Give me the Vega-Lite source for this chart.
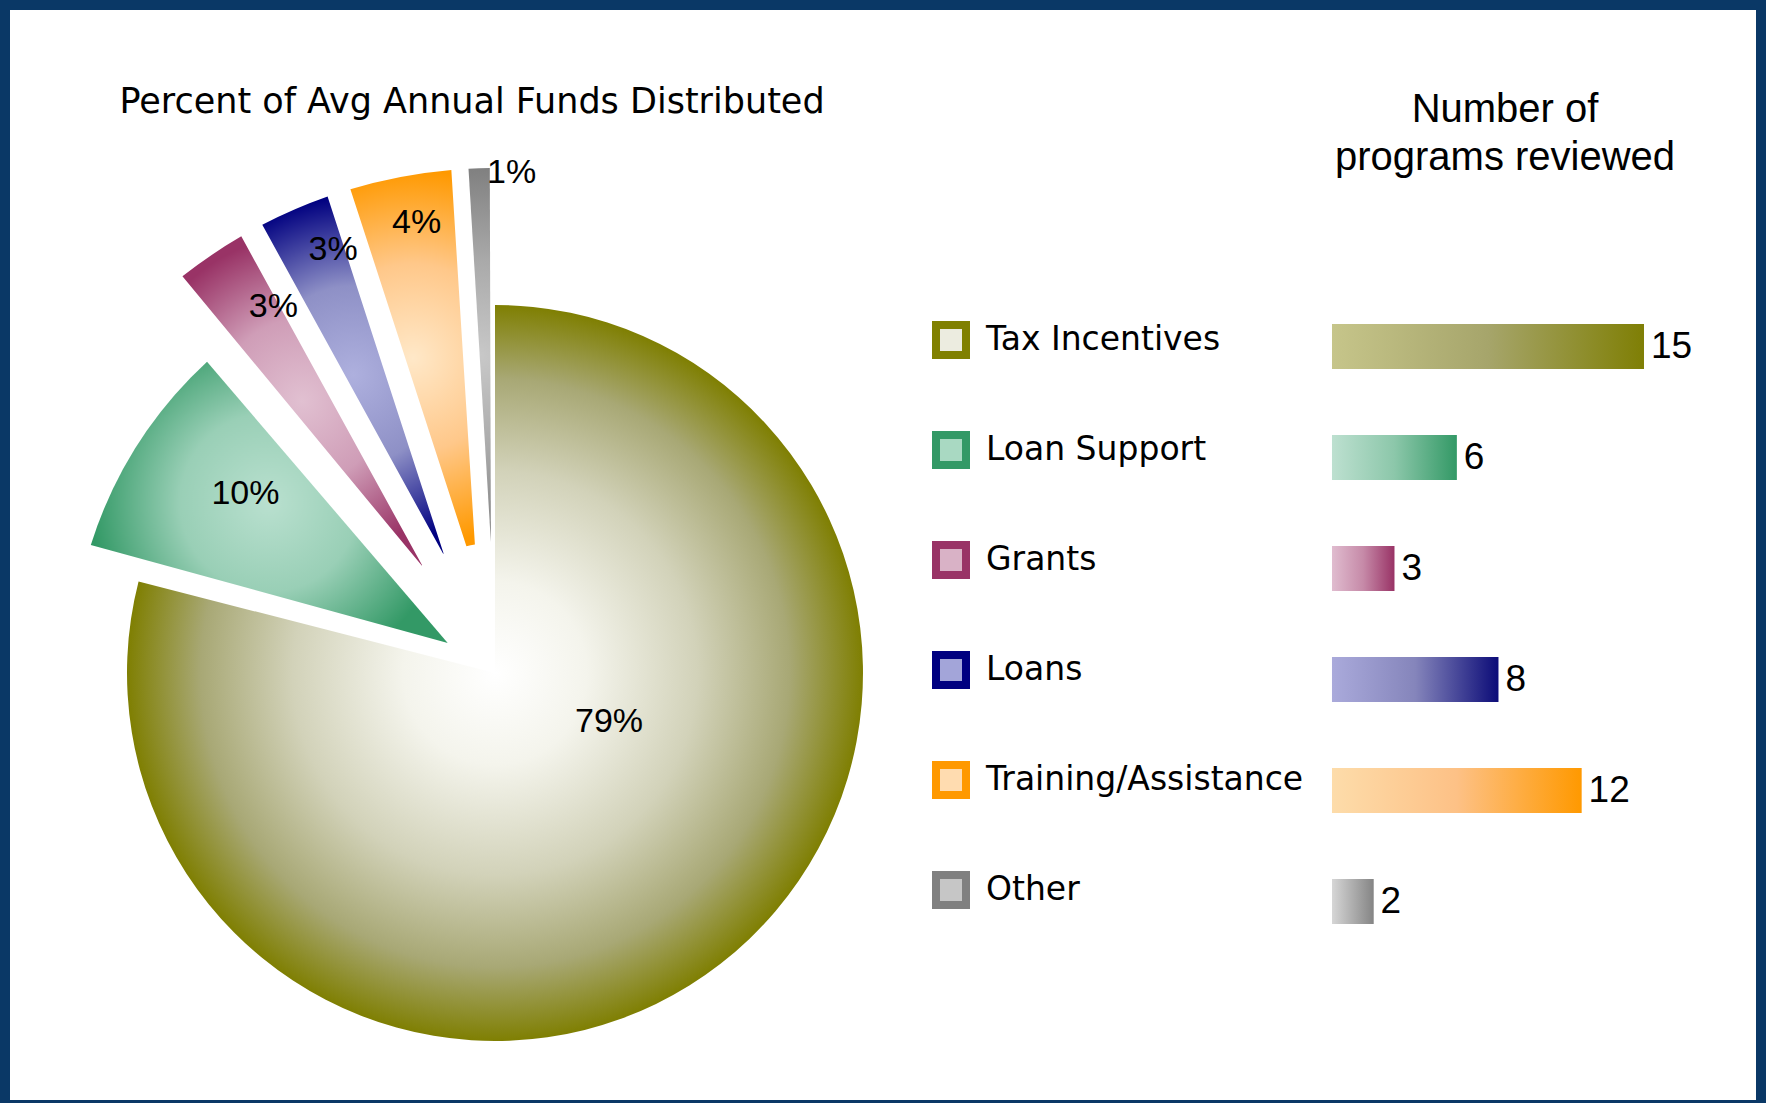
{
  "$schema": "https://vega.github.io/schema/vega-lite/v6.json",
  "background": "#0a3866",
  "padding": {"left": 10, "top": 10, "right": 10, "bottom": 3},
  "spacing": 0,
  "bounds": "flush",
  "align": "each",
  "columns": 2,
  "resolve": {"scale": {"fill": "independent", "stroke": "independent"}, "legend": {"fill": "independent", "stroke": "independent"}},
  "config": {"view": {"fill": "#ffffff", "stroke": null}, "font": "DejaVu Sans"},
  "datasets": {
    "funds": [
      {"category": "Tax Incentives", "pct": 0.79},
      {"category": "Loan Support", "pct": 0.10},
      {"category": "Grants", "pct": 0.03},
      {"category": "Loans", "pct": 0.03},
      {"category": "Training/Assistance", "pct": 0.04},
      {"category": "Other", "pct": 0.01}
    ],
    "programs": [
      {"category": "Tax Incentives", "count": 15},
      {"category": "Loan Support", "count": 6},
      {"category": "Grants", "count": 3},
      {"category": "Loans", "count": 8},
      {"category": "Training/Assistance", "count": 12},
      {"category": "Other", "count": 2}
    ],
    "pietitle": [{"label": "Percent of Avg Annual Funds Distributed"}],
    "bartitle": [{"label": "Number of\nprograms reviewed"}]
  },
  "concat": [
    {
      "width": 970,
      "height": 236,
      "view": {"fill": "#ffffff", "stroke": null},
      "data": {"name": "pietitle"},
      "mark": {"type": "text", "font": "DejaVu Sans", "fontSize": 35, "color": "#000000", "dx": -23, "dy": -26},
      "encoding": {"text": {"field": "label", "type": "nominal"}}
    },
    {
      "width": 776,
      "height": 236,
      "view": {"fill": "#ffffff", "stroke": null},
      "data": {"name": "bartitle"},
      "mark": {"type": "text", "font": "Liberation Sans", "fontSize": 40, "color": "#000000", "lineBreak": "\n", "lineHeight": 48, "dx": 137, "dy": -18},
      "encoding": {"text": {"field": "label", "type": "nominal"}}
    },
    {
      "width": 970,
      "height": 854,
      "view": {"fill": "#ffffff", "stroke": null},
      "data": {"name": "funds"},
      "transform": [{"stack": "pct", "groupby": [], "as": ["start", "end"]}],
      "layer": [
        {
          "transform": [{"filter": "datum.category === 'Tax Incentives'"}],
          "mark": {"type": "arc", "radius": 368,
            "fill": {"gradient": "radial", "x1": 0.5, "y1": 0.5, "r1": 0, "x2": 0.5, "y2": 0.5, "r2": 0.5,
              "stops": [{"offset": 0, "color": "#ffffff"}, {"offset": 0.25, "color": "#f4f4ec"}, {"offset": 0.55, "color": "#d2d2b9"}, {"offset": 0.8, "color": "#a8a875"}, {"offset": 1, "color": "#7f7f02"}]}},
          "encoding": {
            "theta": {"field": "start", "type": "quantitative", "scale": {"domain": [0, 1]}},
            "theta2": {"field": "end"}
          }
        },
        {
          "transform": [{"filter": "datum.category === 'Loan Support'"}],
          "mark": {"type": "arc", "radius": 424, "radius2": 56, "padAngle": 0.11,
            "fill": {"gradient": "radial", "x1": 0.5, "y1": 0.5, "r1": 0, "x2": 0.5, "y2": 0.5, "r2": 0.5,
              "stops": [{"offset": 0, "color": "#b9e0cf"}, {"offset": 0.5, "color": "#99cfb6"}, {"offset": 1, "color": "#339966"}]}},
          "encoding": {
            "theta": {"field": "start", "type": "quantitative", "scale": {"domain": [0, 1]}},
            "theta2": {"field": "end"}
          }
        },
        {
          "transform": [{"filter": "datum.category === 'Grants' || datum.category === 'Loans' || datum.category === 'Training/Assistance'"}],
          "mark": {"type": "arc", "radius": 505, "radius2": 130, "padAngle": 0.046},
          "encoding": {
            "theta": {"field": "start", "type": "quantitative", "scale": {"domain": [0, 1]}},
            "theta2": {"field": "end"},
            "fill": {
              "condition": [
                {"test": "datum.category === 'Grants'", "value": {"gradient": "radial", "x1": 0.5, "y1": 0.5, "r1": 0, "x2": 0.5, "y2": 0.5, "r2": 0.5, "stops": [{"offset": 0, "color": "#e1c0d1"}, {"offset": 0.5, "color": "#cf9db7"}, {"offset": 1, "color": "#993366"}]}},
                {"test": "datum.category === 'Loans'", "value": {"gradient": "radial", "x1": 0.5, "y1": 0.5, "r1": 0, "x2": 0.5, "y2": 0.5, "r2": 0.5, "stops": [{"offset": 0, "color": "#aeb0de"}, {"offset": 0.5, "color": "#8e90c6"}, {"offset": 1, "color": "#000080"}]}}
              ],
              "value": {"gradient": "radial", "x1": 0.5, "y1": 0.5, "r1": 0, "x2": 0.5, "y2": 0.5, "r2": 0.5, "stops": [{"offset": 0, "color": "#ffe8c8"}, {"offset": 0.5, "color": "#ffc88a"}, {"offset": 1, "color": "#ff9900"}]}
            }
          }
        },
        {
          "transform": [{"filter": "datum.category === 'Other'"}],
          "mark": {"type": "arc", "radius": 505, "radius2": 130, "padAngle": 0.02,
            "fill": {"gradient": "radial", "x1": 0.5, "y1": 0.5, "r1": 0, "x2": 0.5, "y2": 0.5, "r2": 0.5, "stops": [{"offset": 0, "color": "#c8c8c8"}, {"offset": 0.5, "color": "#aaaaaa"}, {"offset": 1, "color": "#808080"}]}},
          "encoding": {
            "theta": {"field": "start", "type": "quantitative", "scale": {"domain": [0, 1]}},
            "theta2": {"field": "end"}
          }
        },
        {
          "mark": {"type": "text", "radius": 124, "dx": 38, "dy": -49, "font": "Liberation Sans", "fontSize": 34, "color": "#000000"},
          "encoding": {
            "theta": {"field": "pct", "type": "quantitative", "stack": true, "scale": {"domain": [0, 1]}},
            "order": {"field": "start", "type": "quantitative"},
            "text": {"condition": {"test": "datum.category === 'Tax Incentives'", "field": "pct", "type": "quantitative", "format": ".0%"}, "value": ""}
          }
        },
        {
          "mark": {"type": "text", "radius": 305, "dx": 8, "dy": -16, "font": "Liberation Sans", "fontSize": 34, "color": "#000000"},
          "encoding": {
            "theta": {"field": "pct", "type": "quantitative", "stack": true, "scale": {"domain": [0, 1]}},
            "order": {"field": "start", "type": "quantitative"},
            "text": {"condition": {"test": "datum.category === 'Loan Support'", "field": "pct", "type": "quantitative", "format": ".0%"}, "value": ""}
          }
        },
        {
          "mark": {"type": "text", "radius": 430, "dx": 20, "dy": -10, "font": "Liberation Sans", "fontSize": 34, "color": "#000000"},
          "encoding": {
            "theta": {"field": "pct", "type": "quantitative", "stack": true, "scale": {"domain": [0, 1]}},
            "order": {"field": "start", "type": "quantitative"},
            "text": {"condition": {"test": "datum.category === 'Grants'", "field": "pct", "type": "quantitative", "format": ".0%"}, "value": ""}
          }
        },
        {
          "mark": {"type": "text", "radius": 453, "dx": 18, "dy": -7, "font": "Liberation Sans", "fontSize": 34, "color": "#000000"},
          "encoding": {
            "theta": {"field": "pct", "type": "quantitative", "stack": true, "scale": {"domain": [0, 1]}},
            "order": {"field": "start", "type": "quantitative"},
            "text": {"condition": {"test": "datum.category === 'Loans'", "field": "pct", "type": "quantitative", "format": ".0%"}, "value": ""}
          }
        },
        {
          "mark": {"type": "text", "radius": 445, "dx": 5, "dy": -13, "font": "Liberation Sans", "fontSize": 34, "color": "#000000"},
          "encoding": {
            "theta": {"field": "pct", "type": "quantitative", "stack": true, "scale": {"domain": [0, 1]}},
            "order": {"field": "start", "type": "quantitative"},
            "text": {"condition": {"test": "datum.category === 'Training/Assistance'", "field": "pct", "type": "quantitative", "format": ".0%"}, "value": ""}
          }
        },
        {
          "mark": {"type": "text", "radius": 509, "align": "left", "dx": 8, "dy": 9, "font": "Liberation Sans", "fontSize": 34, "color": "#000000"},
          "encoding": {
            "theta": {"field": "pct", "type": "quantitative", "stack": true, "scale": {"domain": [0, 1]}},
            "order": {"field": "start", "type": "quantitative"},
            "text": {"condition": {"test": "datum.category === 'Other'", "field": "pct", "type": "quantitative", "format": ".0%"}, "value": ""}
          }
        }
      ]
    },
    {
      "width": 776,
      "height": 854,
      "view": {"fill": "#ffffff", "stroke": null},
      "data": {"name": "programs"},
      "encoding": {
        "y": {"field": "category", "type": "nominal", "sort": ["Tax Incentives", "Loan Support", "Grants", "Loans", "Training/Assistance", "Other"], "scale": {"range": [45, 711], "paddingInner": 0.595, "paddingOuter": 0.2975}, "axis": null},
        "x": {"field": "count", "type": "quantitative", "scale": {"domain": [-16.923, 20.385], "nice": false, "zero": false}, "axis": null}
      },
      "layer": [
        {
          "mark": {"type": "bar"},
          "encoding": {
            "fill": {"field": "category", "type": "nominal",
              "scale": {"domain": ["Tax Incentives", "Loan Support", "Grants", "Loans", "Training/Assistance", "Other"], "range": ["#ecece0", "#a9d9c2", "#d9b2c6", "#a3a5d9", "#ffdcb0", "#c6c6c6"]},
              "legend": {"title": null, "orient": "none", "legendX": -48, "legendY": 75, "padding": 0, "symbolType": "square", "symbolSize": 900, "symbolStrokeWidth": 8, "labelFont": "DejaVu Sans", "labelFontSize": 33, "labelColor": "#000000", "labelOffset": 16, "labelLimit": 600, "labelBaseline": "middle", "rowPadding": 48}},
            "stroke": {"field": "category", "type": "nominal",
              "scale": {"domain": ["Tax Incentives", "Loan Support", "Grants", "Loans", "Training/Assistance", "Other"], "range": ["#808000", "#339966", "#993366", "#000080", "#ff9900", "#808080"]},
              "legend": {"title": null, "orient": "none", "legendX": -48, "legendY": 75, "padding": 0, "symbolType": "square", "symbolSize": 900, "symbolStrokeWidth": 8, "labelFont": "DejaVu Sans", "labelFontSize": 33, "labelColor": "#000000", "labelOffset": 16, "labelLimit": 600, "labelBaseline": "middle", "rowPadding": 48}},
            "strokeWidth": {"value": 0}
          }
        },
        {
          "mark": {"type": "bar"},
          "encoding": {
            "fill": {
              "condition": [
                {"test": "datum.category === 'Tax Incentives'", "value": {"gradient": "linear", "x1": 0, "y1": 0, "x2": 1, "y2": 0, "stops": [{"offset": 0, "color": "#c6c58a"}, {"offset": 0.5, "color": "#a6a56b"}, {"offset": 1, "color": "#7f7f05"}]}},
                {"test": "datum.category === 'Loan Support'", "value": {"gradient": "linear", "x1": 0, "y1": 0, "x2": 1, "y2": 0, "stops": [{"offset": 0, "color": "#bde0d0"}, {"offset": 0.5, "color": "#8cc7aa"}, {"offset": 1, "color": "#339966"}]}},
                {"test": "datum.category === 'Grants'", "value": {"gradient": "linear", "x1": 0, "y1": 0, "x2": 1, "y2": 0, "stops": [{"offset": 0, "color": "#e0bccf"}, {"offset": 0.5, "color": "#c68aa8"}, {"offset": 1, "color": "#993366"}]}},
                {"test": "datum.category === 'Loans'", "value": {"gradient": "linear", "x1": 0, "y1": 0, "x2": 1, "y2": 0, "stops": [{"offset": 0, "color": "#aaaadb"}, {"offset": 0.5, "color": "#8585bb"}, {"offset": 1, "color": "#0c0c78"}]}},
                {"test": "datum.category === 'Training/Assistance'", "value": {"gradient": "linear", "x1": 0, "y1": 0, "x2": 1, "y2": 0, "stops": [{"offset": 0, "color": "#fddcaa"}, {"offset": 0.5, "color": "#fdc186"}, {"offset": 1, "color": "#ff9900"}]}}
              ],
              "value": {"gradient": "linear", "x1": 0, "y1": 0, "x2": 1, "y2": 0, "stops": [{"offset": 0, "color": "#d6d6d6"}, {"offset": 1, "color": "#858585"}]}
            }
          }
        },
        {
          "mark": {"type": "text", "align": "left", "baseline": "middle", "dx": 7, "font": "Liberation Sans", "fontSize": 37, "color": "#000000"},
          "encoding": {"text": {"field": "count", "type": "quantitative"}}
        }
      ]
    }
  ]
}
